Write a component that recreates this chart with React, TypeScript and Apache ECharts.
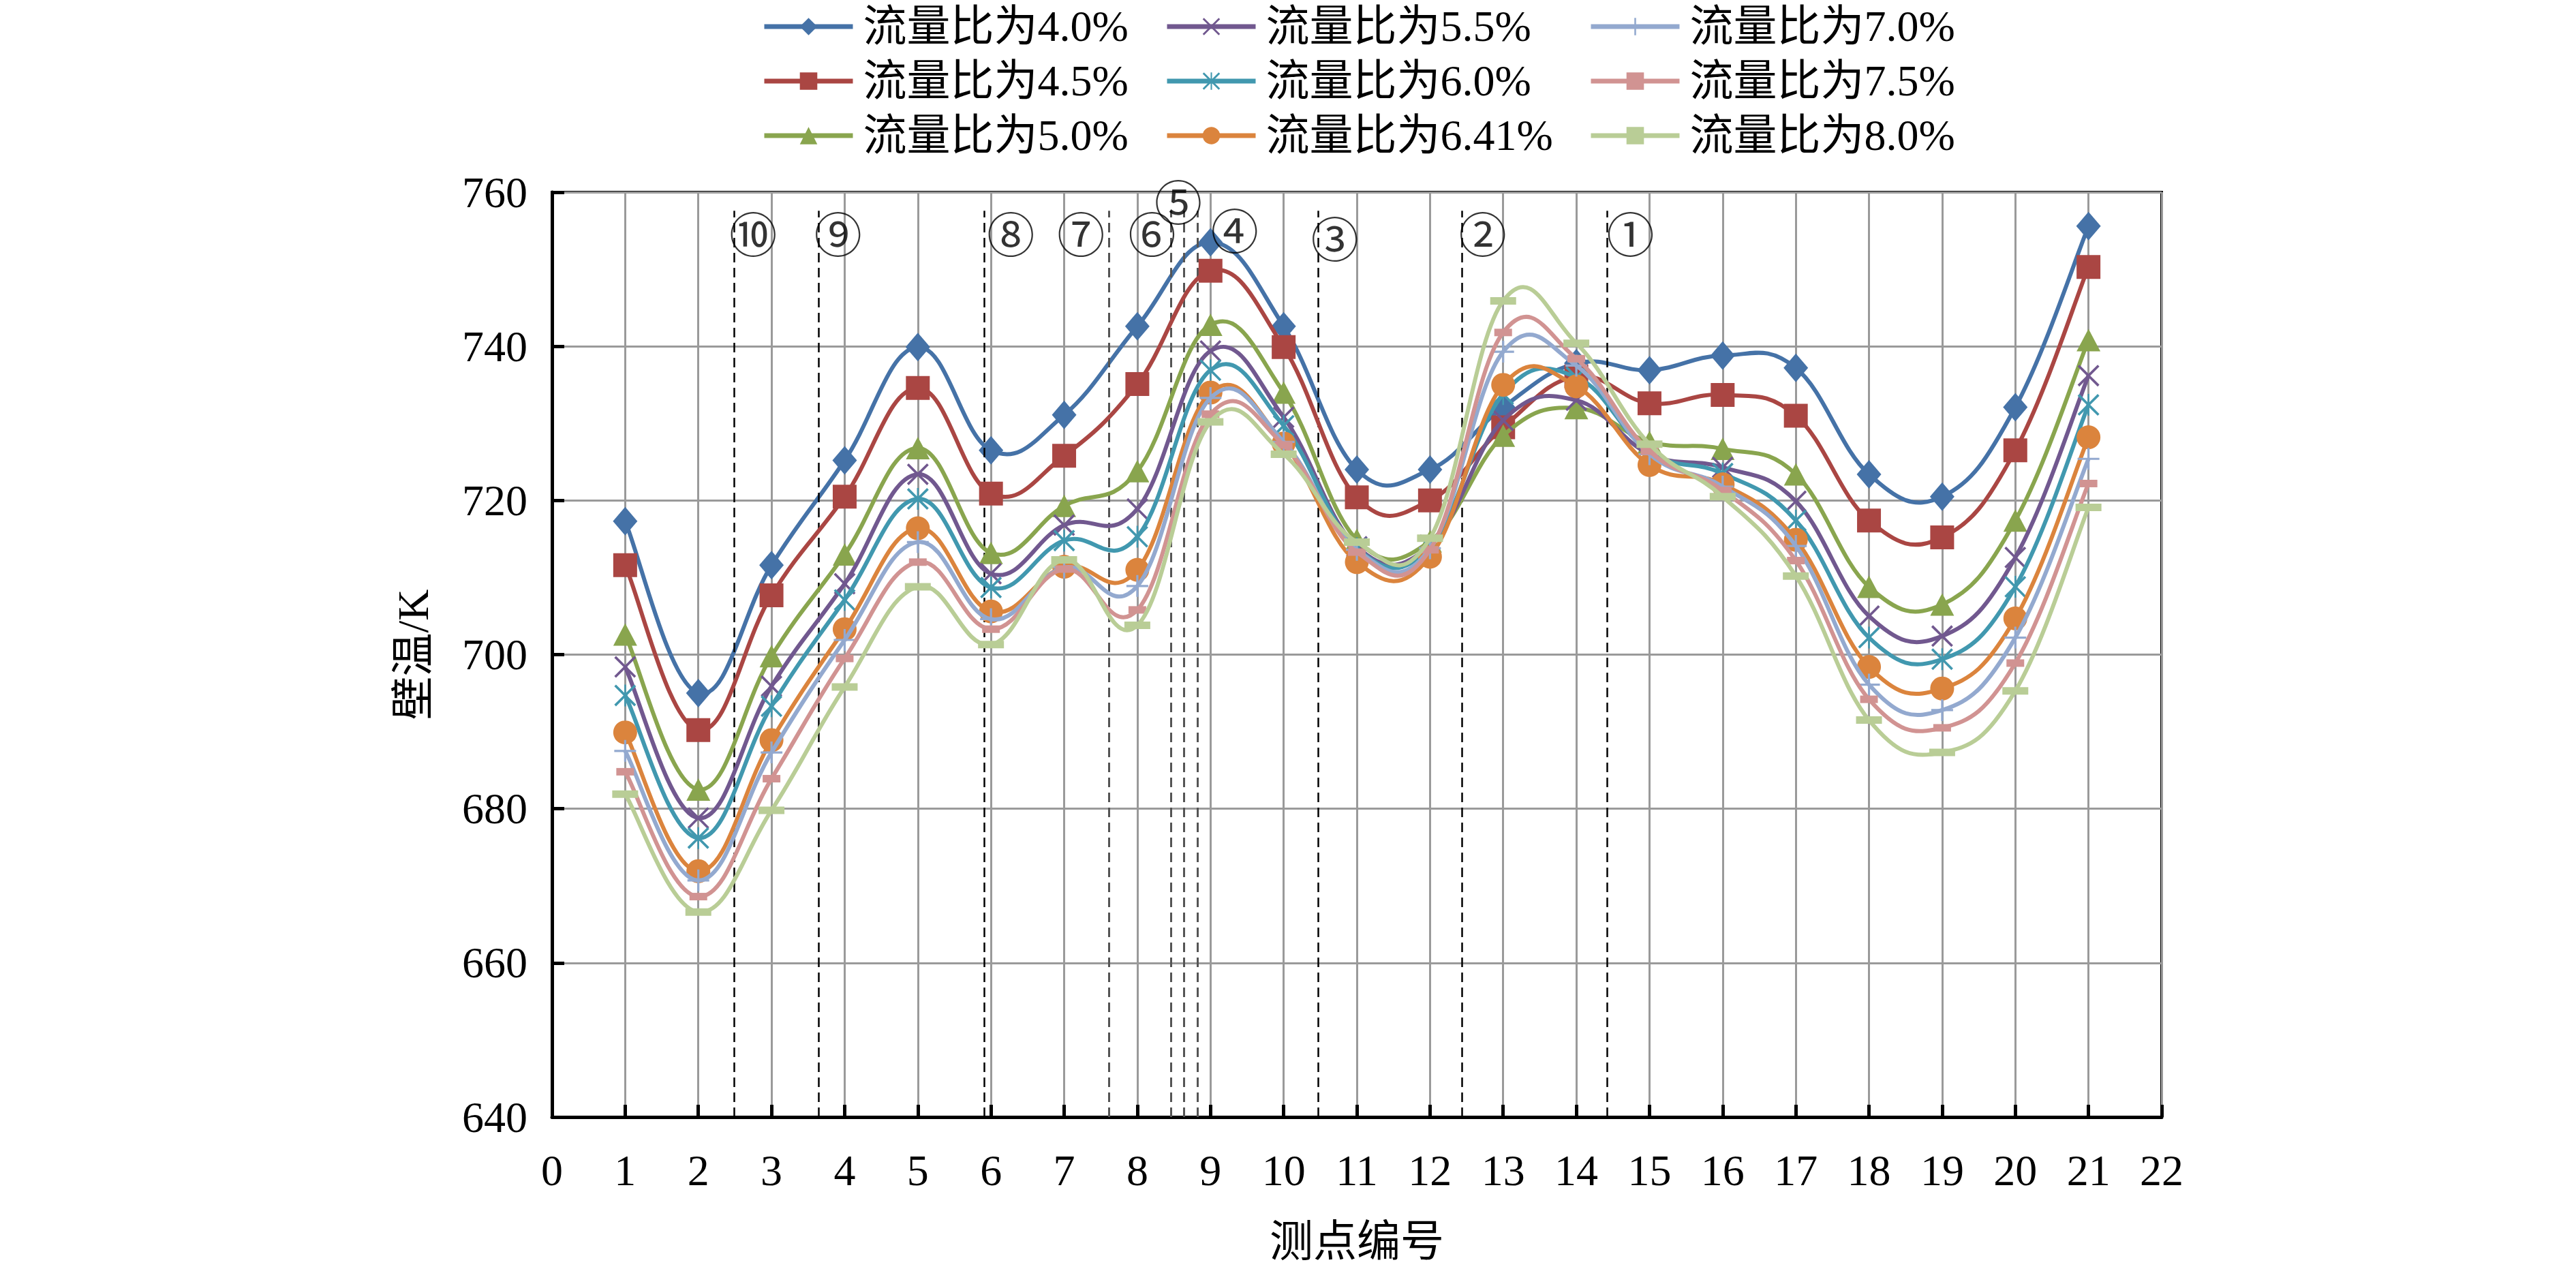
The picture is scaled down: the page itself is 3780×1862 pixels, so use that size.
import React, { useEffect, useRef } from "react";
import * as echarts from "echarts";

const measurePoints = [1, 2, 3, 4, 5, 6, 7, 8, 9, 10, 11, 12, 13, 14, 15, 16, 17, 18, 19, 20, 21];
const xTicks = { min: 0, max: 22, interval: 1 };
const yTicks = { min: 640, max: 760, interval: 20 };

const seriesNames = [
  "流量比为4.0%",
  "流量比为4.5%",
  "流量比为5.0%",
  "流量比为5.5%",
  "流量比为6.0%",
  "流量比为6.41%",
  "流量比为7.0%",
  "流量比为7.5%",
  "流量比为8.0%",
];

const ratio40 = [717.3, 695.0, 711.6, 725.2, 739.9, 726.5, 731.1, 742.6, 753.5, 742.6, 724.0, 724.0, 732.1, 737.8, 736.9, 738.8, 737.2, 723.4, 720.5, 732.1, 755.6];
const ratio45 = [711.6, 690.2, 707.7, 720.5, 734.6, 720.9, 725.8, 735.1, 749.8, 739.9, 720.4, 720.0, 729.5, 736.1, 732.6, 733.7, 731.0, 717.4, 715.2, 726.5, 750.3];
const ratio50 = [702.6, 682.5, 699.8, 713.0, 726.8, 713.2, 719.3, 723.8, 742.8, 734.0, 714.9, 714.7, 728.4, 732.0, 727.6, 726.7, 723.4, 708.8, 706.5, 717.4, 740.8];
const ratio55 = [698.4, 678.8, 695.9, 709.2, 723.4, 710.5, 716.8, 718.9, 739.4, 730.8, 714.0, 714.2, 730.4, 733.0, 726.0, 724.3, 719.9, 705.0, 702.4, 712.6, 736.2];
const ratio60 = [694.7, 676.2, 693.3, 707.1, 720.2, 708.7, 714.8, 715.3, 736.9, 729.7, 713.8, 714.0, 733.8, 736.0, 726.3, 723.5, 717.4, 702.2, 699.4, 708.8, 732.4];
const ratio641 = [689.9, 671.9, 688.9, 703.3, 716.4, 705.6, 711.4, 711.0, 734.0, 727.4, 712.0, 712.7, 735.0, 734.8, 724.6, 722.1, 714.9, 698.4, 695.6, 704.7, 728.2];
const ratio70 = [687.5, 670.7, 687.3, 701.9, 714.6, 704.6, 711.3, 708.9, 733.3, 727.6, 713.6, 713.8, 739.3, 737.5, 726.0, 721.8, 714.1, 696.1, 692.8, 702.2, 725.4];
const ratio75 = [684.8, 668.6, 683.9, 699.5, 712.0, 703.3, 711.1, 705.8, 731.2, 727.2, 713.3, 713.6, 741.8, 738.4, 726.4, 721.3, 712.2, 694.2, 690.5, 698.9, 722.2];
const ratio80 = [681.9, 666.6, 679.8, 695.8, 708.8, 701.3, 712.3, 703.8, 730.2, 726.0, 714.6, 715.1, 745.9, 740.4, 727.3, 720.5, 710.2, 691.5, 687.3, 695.3, 719.1];

const seriesValues = [ratio40, ratio45, ratio50, ratio55, ratio60, ratio641, ratio70, ratio75, ratio80];

// section boundary positions (x in 测点编号 units) and their circled labels
const sectionNames = ["⑩", "⑨", "⑧", "⑦", "⑥", "⑤", "④", "③", "②", "①"];
const sectionLineX = [2.49, 3.64, 5.91, 7.61, 8.46, 8.64, 8.82, 10.47, 12.44, 14.42];
const sectionLabelX = [2.75, 3.91, 6.27, 7.23, 8.2, 8.56, 9.33, 10.7, 12.72, 14.74];
const sectionLabelY = [754.8, 754.8, 754.8, 754.8, 754.8, 759.0, 755.3, 754.2, 754.8, 754.8];
const sectionLineTop = 757.6;

const colors = ["#4572A7", "#AA4643", "#89A54E", "#71588F", "#4198AF", "#DB843D", "#93A9CF", "#D19392", "#B9CD96"];

const X_PATH = "path://M0,8L8,0L50,42L92,0L100,8L58,50L100,92L92,100L50,58L8,100L0,92L42,50Z";
const STAR_PATH = "path://M0,8L8,0L50,42L92,0L100,8L58,50L100,92L92,100L50,58L8,100L0,92L42,50Z M46,0L54,0L54,100L46,100Z";
const PLUS_PATH = "path://M45,0L55,0L55,45L100,45L100,55L55,55L55,100L45,100L45,55L0,55L0,45L45,45Z";

const symbols: any[] = ["diamond", "rect", "triangle", X_PATH, STAR_PATH, "circle", PLUS_PATH, "rect", "rect"];
const symbolSizes: any[] = [[36, 42], 35, [35, 33], 32, 32, 35, 32, [26, 11], [38, 11]];

const SERIF = "'Liberation Serif', 'Times New Roman', 'Noto Sans CJK SC', serif";
const LINE_WIDTH = 6;
const TENSION = 0.2; // spreadsheet-style smoothing of the curve through the points

export default function App() {
  const ref = useRef<HTMLDivElement>(null);

  useEffect(() => {
    document.body.style.margin = "0";
    const chart = echarts.init(ref.current!, undefined, { renderer: "svg" });

    const curveSeries = seriesNames.map((name, i) => ({
      name: "curve " + name,
      type: "custom",
      silent: true,
      z: 3 + 2 * i,
      data: measurePoints.map((x, j) => [x, seriesValues[i][j]]),
      encode: { x: 0, y: 1 },
      renderItem: (params: any, api: any) => {
        if (params.dataIndexInside !== 0) return null;
        const n = measurePoints.length;
        const pts = measurePoints.map((x, j) => api.coord([x, seriesValues[i][j]]));
        let d = `M${pts[0][0]},${pts[0][1]}`;
        for (let j = 0; j < n - 1; j++) {
          const p0 = pts[Math.max(j - 1, 0)];
          const p1 = pts[j];
          const p2 = pts[j + 1];
          const p3 = pts[Math.min(j + 2, n - 1)];
          const c1x = p1[0] + (p2[0] - p0[0]) * TENSION;
          const c1y = p1[1] + (p2[1] - p0[1]) * TENSION;
          const c2x = p2[0] - (p3[0] - p1[0]) * TENSION;
          const c2y = p2[1] - (p3[1] - p1[1]) * TENSION;
          d += ` C${c1x},${c1y} ${c2x},${c2y} ${p2[0]},${p2[1]}`;
        }
        return {
          type: "path",
          shape: { pathData: d },
          style: { fill: "none", stroke: colors[i], lineWidth: LINE_WIDTH, lineJoin: "round" },
        };
      },
    }));

    const markerSeries = seriesNames.map((name, i) => ({
      name,
      type: "line",
      data: measurePoints.map((x, j) => [x, seriesValues[i][j]]),
      symbol: symbols[i],
      symbolSize: symbolSizes[i],
      showAllSymbol: true,
      lineStyle: { color: colors[i], width: LINE_WIDTH, opacity: 0 },
      itemStyle: { color: colors[i] },
      z: 4 + 2 * i,
    }));

    const markLineData = sectionLineX.map((x, i) => {
      const gray = i >= 3 && i <= 6;
      return [
        {
          coord: [x, yTicks.min],
          lineStyle: {
            color: gray ? "#555" : "#000",
            width: gray ? 3 : 2.5,
            type: [14, 8],
          },
        },
        { coord: [x, sectionLineTop] },
      ];
    });

    const option: any = {
      animation: false,
      backgroundColor: "#fff",
      color: colors,
      grid: {
        left: 810,
        right: 3780 - 3172,
        top: 282,
        bottom: 1862 - 1639,
        show: true,
        borderColor: "#000",
        borderWidth: 4,
        containLabel: false,
      },
      legend: [0, 1, 2].map((col) => ({
        data: seriesNames.slice(col * 3, col * 3 + 3),
        orient: "vertical",
        left: [1113, 1704, 2326][col],
        top: 2,
        itemWidth: 130,
        itemHeight: 32,
        itemGap: 16,
        lineStyle: { width: 7, opacity: 1 },
        textStyle: {
          fontFamily: SERIF,
          fontSize: 64,
          color: "#000",
          padding: [0, 0, 0, 10],
        },
      })),
      xAxis: {
        type: "value",
        min: xTicks.min,
        max: xTicks.max,
        interval: xTicks.interval,
        name: "测点编号",
        nameLocation: "middle",
        nameGap: 150,
        nameTextStyle: { fontFamily: SERIF, fontSize: 64, color: "#000" },
        axisLine: { show: true, onZero: false, lineStyle: { color: "#000", width: 5 } },
        axisTick: { show: true, inside: true, length: 18, lineStyle: { color: "#000", width: 5 } },
        axisLabel: { fontFamily: SERIF, fontSize: 64, color: "#000", margin: 46 },
        splitLine: { show: true, lineStyle: { color: "#9a9a9a", width: 3 } },
      },
      yAxis: {
        type: "value",
        min: yTicks.min,
        max: yTicks.max,
        interval: yTicks.interval,
        name: "壁温/K",
        nameLocation: "middle",
        nameRotate: 90,
        nameGap: 172,
        nameTextStyle: { fontFamily: SERIF, fontSize: 64, color: "#000" },
        axisLine: { show: true, lineStyle: { color: "#000", width: 5 } },
        axisTick: { show: true, inside: true, length: 18, lineStyle: { color: "#000", width: 5 } },
        axisLabel: { fontFamily: SERIF, fontSize: 64, color: "#000", margin: 36 },
        splitLine: { show: true, lineStyle: { color: "#9a9a9a", width: 3 } },
      },
      series: [
        {
          name: "sections",
          type: "line",
          data: [],
          silent: true,
          z: 2,
          markLine: {
            silent: true,
            symbol: ["none", "none"],
            label: { show: false },
            data: markLineData,
          },
        },
        {
          name: "sectionLabels",
          type: "scatter",
          silent: true,
          symbolSize: 2,
          itemStyle: { color: "rgba(0,0,0,0)" },
          z: 30,
          label: {
            show: true,
            position: "inside",
            formatter: "{b}",
            fontFamily: "'Noto Sans CJK SC', 'DejaVu Sans', serif",
            fontSize: 70,
            color: "#000",
          },
          data: sectionNames.map((n, i) => ({ name: n, value: [sectionLabelX[i], sectionLabelY[i]] })),
        },
        ...curveSeries,
        ...markerSeries,
      ],
    };

    chart.setOption(option);
    return () => chart.dispose();
  }, []);

  return <div ref={ref} style={{ width: 3780, height: 1862 }} />;
}
